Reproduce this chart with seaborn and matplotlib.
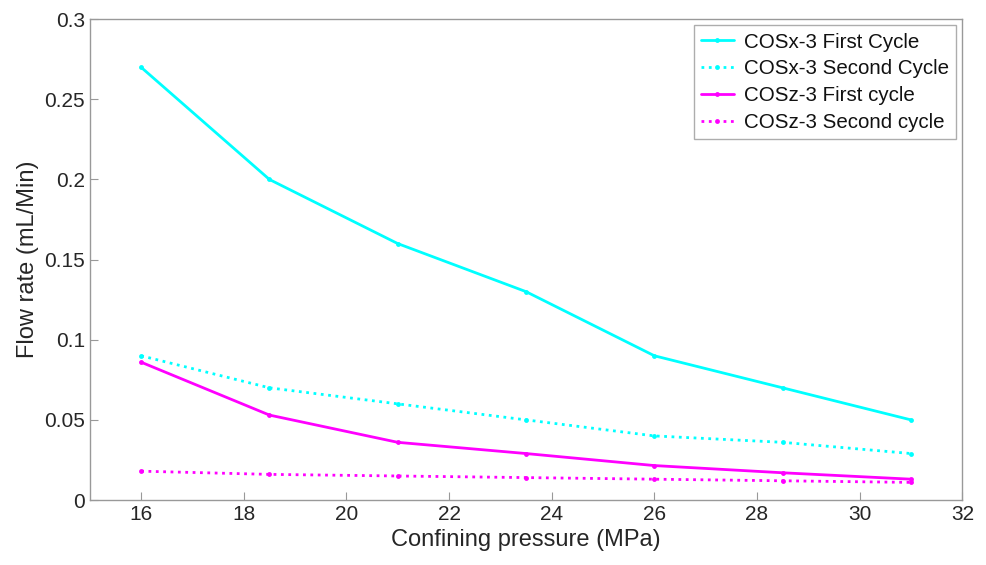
import matplotlib
matplotlib.use("Agg")
import matplotlib.pyplot as plt
import seaborn as sns
import pandas as pd

pressure = [16, 18.5, 21, 23.5, 26, 28.5, 31]
cosx_first = [0.27, 0.20, 0.16, 0.13, 0.09, 0.07, 0.05]
cosx_second = [0.09, 0.07, 0.06, 0.05, 0.04, 0.036, 0.029]
cosz_first = [0.086, 0.053, 0.036, 0.029, 0.0215, 0.017, 0.013]
cosz_second = [0.018, 0.016, 0.015, 0.014, 0.013, 0.012, 0.011]
series_names = ["COSx-3 First Cycle", "COSx-3 Second Cycle",
                "COSz-3 First cycle", "COSz-3 Second cycle"]
x_ticks = [16, 18, 20, 22, 24, 26, 28, 30, 32]
y_ticks = [0, 0.05, 0.1, 0.15, 0.2, 0.25, 0.3]
y_tick_labels = ["0", "0.05", "0.1", "0.15", "0.2", "0.25", "0.3"]

rows = []
for name, vals in zip(series_names, [cosx_first, cosx_second, cosz_first, cosz_second]):
    for p, v in zip(pressure, vals):
        rows.append({"Pressure": p, "Flow": v, "Series": name})
df = pd.DataFrame(rows)

sns.set_theme(style="white")
plt.rcParams["font.family"] = ["Liberation Sans", "DejaVu Sans"]

fig = plt.figure(figsize=(9.87, 5.65), dpi=100)
ax = fig.add_axes([0.091, 0.115, 0.884, 0.851])

palette = {series_names[0]: "#00FFFF", series_names[1]: "#00FFFF",
           series_names[2]: "#FF00FF", series_names[3]: "#FF00FF"}
styles = {series_names[0]: "-", series_names[1]: ":",
          series_names[2]: "-", series_names[3]: ":"}

for name in series_names:
    sub = df[df["Series"] == name]
    sns.lineplot(data=sub, x="Pressure", y="Flow", ax=ax, color=palette[name],
                 linestyle=styles[name], linewidth=2, marker="o", markersize=3.5,
                 markeredgewidth=0, label=name)

ax.set_xlim(15, 32)
ax.set_ylim(0, 0.3)
ax.set_xticks(x_ticks)
ax.set_yticks(y_ticks)
ax.set_yticklabels(y_tick_labels)
ax.set_xlabel("Confining pressure (MPa)", fontsize=17, color="#262626")
ax.set_ylabel("Flow rate (mL/Min)", fontsize=17, color="#262626")
ax.tick_params(axis="both", direction="in", length=6, width=0.8, color="#999999",
               labelsize=15, labelcolor="#262626", bottom=True, left=True,
               top=False, right=False)
for s in ax.spines.values():
    s.set_color("#999999")
    s.set_linewidth(1.0)

leg = ax.legend(loc="upper right", fontsize=14.8, frameon=True, fancybox=False,
                edgecolor="#999999", borderaxespad=0.3, handlelength=1.6,
                labelspacing=0.38, borderpad=0.35, handletextpad=0.5)
leg.get_frame().set_linewidth(1.0)
for t in leg.get_texts():
    t.set_color("#111111")

fig.savefig("out.png", dpi=100)
